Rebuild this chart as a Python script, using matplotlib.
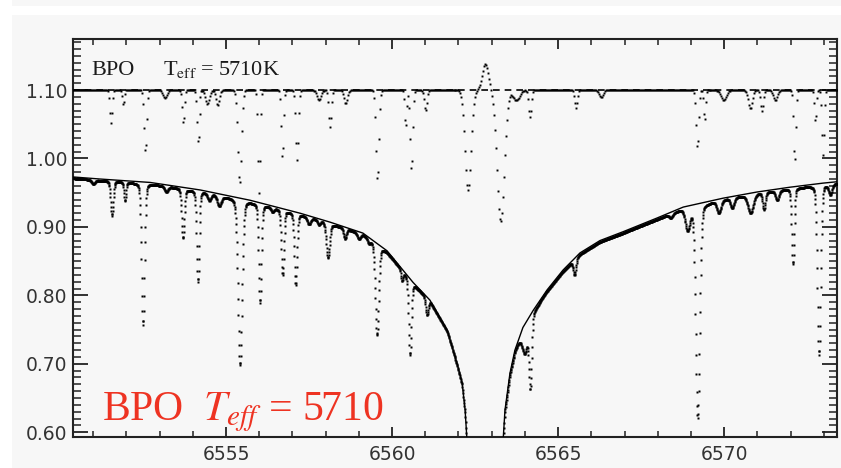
import numpy as np
import matplotlib
matplotlib.use('Agg')
import matplotlib.pyplot as plt
from matplotlib.patches import Rectangle
from matplotlib.ticker import MultipleLocator

plt.rcParams['mathtext.fontset'] = 'stix'

# ---- model H-alpha profile (thin solid line) ----
prof_wl = [6550.39, 6551.20, 6552.71, 6554.22, 6555.72, 6557.23, 6558.13,
           6559.12, 6559.85, 6560.63, 6561.14, 6561.66, 6561.96, 6562.11,
           6562.20, 6562.26, 6562.80, 6563.34, 6563.40, 6563.55, 6563.70,
           6563.94, 6564.25, 6564.67, 6565.15, 6565.66, 6566.26, 6566.96,
           6567.98, 6568.77, 6569.97, 6570.99, 6571.98, 6572.98, 6573.40]
prof_fl = [0.973, 0.970, 0.965, 0.954, 0.939, 0.920, 0.907,
           0.891, 0.865, 0.819, 0.793, 0.749, 0.700, 0.672,
           0.632, 0.585, 0.300, 0.585, 0.632, 0.686, 0.720,
           0.753, 0.778, 0.808, 0.837, 0.862, 0.880, 0.893,
           0.913, 0.929, 0.942, 0.951, 0.958, 0.964, 0.966]

# ---- observed (lower) spectrum: offset below model and absorption lines ----
low_offset = 0.002
low_wl = [6551.00, 6551.56, 6551.96, 6552.50, 6553.20, 6553.70, 6554.15,
          6554.50, 6554.80, 6555.42, 6556.02, 6556.40, 6556.70, 6557.10,
          6557.50, 6557.80, 6558.07, 6558.58, 6559.00, 6559.30, 6559.55,
          6560.30, 6560.54, 6561.05, 6564.00, 6564.16, 6565.50, 6568.40,
          6568.90, 6569.20, 6569.85, 6570.25, 6570.80, 6571.20, 6571.60,
          6572.07, 6572.86, 6573.20]
low_depth = [0.006, 0.050, 0.027, 0.207, 0.008, 0.072, 0.133,
             0.010, 0.015, 0.242, 0.144, 0.006, 0.095, 0.104,
             0.010, 0.006, 0.051, 0.015, 0.008, 0.006, 0.132,
             0.015, 0.110, 0.024, 0.040, 0.100, 0.022, 0.006,
             0.032, 0.310, 0.018, 0.015, 0.027, 0.025, 0.014,
             0.111, 0.248, 0.015]
low_sigma = [0.050, 0.040, 0.030, 0.045, 0.050, 0.040, 0.040,
             0.050, 0.060, 0.060, 0.040, 0.040, 0.040, 0.040,
             0.050, 0.040, 0.050, 0.040, 0.050, 0.040, 0.050,
             0.030, 0.040, 0.040, 0.080, 0.040, 0.040, 0.050,
             0.070, 0.060, 0.060, 0.050, 0.080, 0.040, 0.050,
             0.040, 0.050, 0.050]

# ---- upper (offset) spectrum around the 1.10 level ----
up_level = 1.10
up_wl = [6551.53, 6551.90, 6552.56, 6553.15, 6553.70, 6554.15, 6554.45,
         6554.76, 6555.42, 6556.00, 6556.70, 6557.14, 6557.80, 6558.13,
         6558.60, 6559.55, 6560.40, 6560.57, 6561.00, 6562.30, 6562.82,
         6563.28, 6563.75, 6564.16, 6565.54, 6566.30, 6569.18, 6569.40,
         6570.00, 6570.80, 6571.15, 6571.55, 6572.13, 6572.75, 6572.98]
up_depth = [0.048, 0.022, 0.091, 0.012, 0.048, 0.077, 0.020,
            0.022, 0.136, 0.150, 0.100, 0.102, 0.015, 0.054,
            0.020, 0.132, 0.054, 0.117, 0.030, 0.146, -0.038,
            0.192, 0.015, 0.040, 0.026, 0.010, 0.085, 0.044,
            0.015, 0.027, 0.030, 0.015, 0.105, 0.047, 0.095]
up_sigma = [0.035, 0.030, 0.040, 0.060, 0.035, 0.040, 0.060,
            0.050, 0.055, 0.035, 0.035, 0.040, 0.060, 0.040,
            0.050, 0.045, 0.030, 0.040, 0.040, 0.090, 0.090,
            0.110, 0.100, 0.040, 0.040, 0.060, 0.040, 0.030,
            0.080, 0.060, 0.040, 0.060, 0.035, 0.030, 0.035]

xticks = [6555, 6560, 6565, 6570]
yticks = [0.60, 0.70, 0.80, 0.90, 1.00, 1.10]


def line_shape(lam, c, s):
    g = np.exp(-0.5 * ((lam - c) / s) ** 2)
    lor = 1.0 / (1.0 + ((lam - c) / (1.177 * s)) ** 2)
    return 0.85 * g + 0.15 * lor


# ---- build spectra from the read line lists ----
lam_low = np.arange(6550.30, 6573.50, 0.01)
flux_low = np.interp(lam_low, prof_wl, prof_fl) - low_offset
for c, d, s in zip(low_wl, low_depth, low_sigma):
    flux_low = flux_low - d * line_shape(lam_low, c, s)

lam_up = np.arange(6550.30, 6573.50, 0.03)
flux_up = np.full_like(lam_up, up_level)
for c, d, s in zip(up_wl, up_depth, up_sigma):
    flux_up = flux_up - d * np.exp(-0.5 * ((lam_up - c) / s) ** 2)

# ---- figure ----
W, H = 841, 468
fig = plt.figure(figsize=(W / 100, H / 100), dpi=100, facecolor='white')
bg = '#f7f7f7'
fig.patches.append(Rectangle((12 / W, 0), 1, (H - 15) / H, transform=fig.transFigure,
                             facecolor=bg, edgecolor='none', zorder=-10))
fig.patches.append(Rectangle((12 / W, (H - 6) / H), 1, 6 / H, transform=fig.transFigure,
                             facecolor=bg, edgecolor='none', zorder=-10))

ax = fig.add_axes([73 / W, (H - 437) / H, (837 - 73) / W, (437 - 39) / H])
ax.set_facecolor(bg)

ax.axhline(up_level, color='black', lw=1.2, ls=(0, (4, 3)), zorder=2)
ax.plot(lam_up, flux_up, ls='none', marker='s', ms=1.4, mec='none', mfc='black', zorder=3)
ax.plot(lam_low, flux_low, ls='none', marker='s', ms=2.1, mec='none', mfc='black', zorder=3)
ax.plot(prof_wl, prof_fl, color='black', lw=1.0, zorder=4)

ax.set_xlim(6550.39, 6573.40)
ax.set_ylim(0.593, 1.1746)
ax.set_xticks(xticks)
ax.set_xticklabels([str(t) for t in xticks])
ax.set_yticks(yticks)
ax.set_yticklabels(['%.2f' % t for t in yticks])
ax.xaxis.set_minor_locator(MultipleLocator(1))
ax.yaxis.set_minor_locator(MultipleLocator(0.01))

for sp in ax.spines.values():
    sp.set_linewidth(1.5)
    sp.set_color('#222222')

ax.tick_params(axis='x', which='major', direction='in', length=7, width=1.3,
               top=True, bottom=True, labelsize=13.5, pad=6, labelcolor='#333333', color='#222222')
ax.tick_params(axis='x', which='minor', direction='in', length=4, width=1.1,
               top=True, bottom=True, color='#222222')
ax.tick_params(axis='y', which='major', direction='in', length=11, width=1.3,
               left=True, right=True, labelsize=13.5, pad=4, labelcolor='#333333', color='#222222')
ax.tick_params(axis='y', which='minor', direction='in', length=5.5, width=1.1,
               left=True, right=True, color='#222222')

serif = ['Liberation Serif', 'DejaVu Serif']
fig.text(91 / W, 1 - 75 / H, 'BPO', fontsize=16, family=serif, color='#1a1a1a', va='baseline')
fig.text(163 / W, 1 - 75 / H, r'T$_{\mathrm{eff}}$ = 5710K', fontsize=16, family=serif,
         color='#1a1a1a', va='baseline')

fig.text(102 / W, 1 - 420 / H, r'BPO  $T_{eff}$ = 5710', fontsize=30, family=serif,
         color='#ee3322', va='baseline')

fig.savefig('out.png', dpi=100, facecolor=fig.get_facecolor())
